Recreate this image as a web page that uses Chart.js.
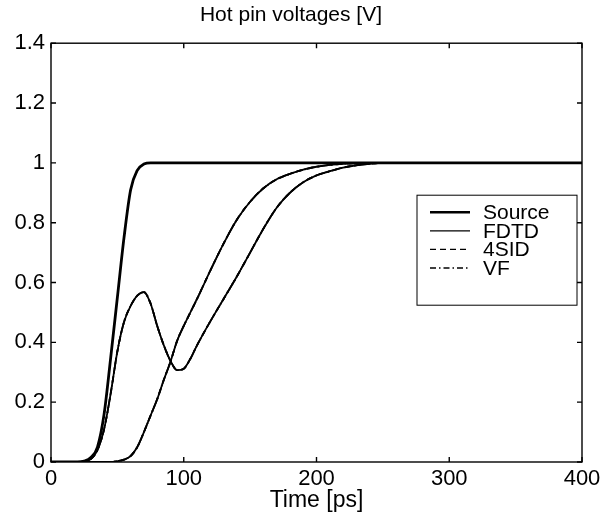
<!DOCTYPE html>
<html>
<head>
<meta charset="utf-8">
<script src="https://cdn.jsdelivr.net/npm/chart.js@4"></script>
<style>
  body { margin: 0; background: #fff; }
  #wrap { width: 615px; height: 523px; }
</style>
</head>
<body>
<div id="wrap"><canvas id="pinChart"></canvas></div>
<script>
// Time axis [ps]
var timePs = [0, 10, 20, 25, 30, 35, 40, 45, 50, 55, 60, 65, 70, 75, 80, 85, 90, 95, 100, 105,
              110, 120, 130, 140, 150, 160, 170, 180, 190, 200, 210, 220, 230, 240, 250, 260, 280, 300, 350, 400];

// Source voltage [V]
var sourceV = [0, 0, 0, 0.003, 0.015, 0.05, 0.16, 0.35, 0.55, 0.75, 0.91, 0.975, 0.996, 1, 1, 1, 1, 1, 1, 1,
               1, 1, 1, 1, 1, 1, 1, 1, 1, 1, 1, 1, 1, 1, 1, 1, 1, 1, 1, 1];

// Hot pin with the bump (near end)
var nearPinV = [0, 0, 0, 0.002, 0.01, 0.04, 0.11, 0.23, 0.37, 0.468, 0.522, 0.556, 0.568, 0.53, 0.455, 0.39, 0.338, 0.307, 0.312, 0.345,
                0.39, 0.47, 0.545, 0.62, 0.7, 0.78, 0.85, 0.9, 0.935, 0.958, 0.972, 0.984, 0.992, 0.997, 1, 1, 1, 1, 1, 1];

// Delayed hot pin (far end)
var farPinV = [0, 0, 0, 0, 0, 0, 0, 0, 0.003, 0.008, 0.02, 0.05, 0.1, 0.155, 0.21, 0.275, 0.335, 0.405, 0.455, 0.5,
               0.545, 0.64, 0.73, 0.81, 0.87, 0.915, 0.945, 0.963, 0.977, 0.987, 0.993, 0.997, 0.999, 1, 1, 1, 1, 1, 1, 1];

var xTicks = [0, 100, 200, 300, 400];
var yTicks = [0, 0.2, 0.4, 0.6, 0.8, 1, 1.2, 1.4];

var FONT = "'Liberation Sans', Arial, sans-serif";

function pts(vals) {
    return timePs.map(function (t, i) { return { x: t, y: vals[i] }; });
}

function line(label, vals, width, legendWidth, dash, inLegend) {
    return {
        label: label,
        data: pts(vals),
        borderColor: "#000",
        borderWidth: width,
        borderDash: dash,
        pointRadius: 0,
        fill: false,
        cubicInterpolationMode: "monotone",
        legendWidth: legendWidth,
        inLegend: inLegend
    };
}

var datasets = [
    line("Source", sourceV, 2.8, 2.6, [], true),
    line("FDTD", nearPinV, 1.8, 1.2, [], true),
    line("FDTD", farPinV, 1.8, 1.2, [], false),
    line("4SID", nearPinV, 1.8, 1.4, [6, 4], true),
    line("4SID", farPinV, 1.8, 1.4, [6, 4], false),
    line("VF", nearPinV, 1.8, 1.4, [6, 3, 1.5, 3], true),
    line("VF", farPinV, 1.8, 1.4, [6, 3, 1.5, 3], false)
];

// box around the axes, inward ticks, and the legend inside
var matlabAxes = {
    id: "matlabAxes",
    afterDatasetsDraw: function (chart) {
        var ctx = chart.ctx, a = chart.chartArea;
        var xs = chart.scales.x, ys = chart.scales.y;
        ctx.save();
        ctx.strokeStyle = "#000";
        ctx.lineWidth = 1.4;
        ctx.setLineDash([]);
        ctx.strokeRect(a.left, a.top, a.right - a.left, a.bottom - a.top);
        var tl = 5;
        ctx.beginPath();
        xTicks.forEach(function (v) {
            var px = xs.getPixelForValue(v);
            ctx.moveTo(px, a.bottom); ctx.lineTo(px, a.bottom - tl);
            ctx.moveTo(px, a.top); ctx.lineTo(px, a.top + tl);
        });
        yTicks.forEach(function (v) {
            var py = ys.getPixelForValue(v);
            ctx.moveTo(a.left, py); ctx.lineTo(a.left + tl, py);
            ctx.moveTo(a.right, py); ctx.lineTo(a.right - tl, py);
        });
        ctx.stroke();

        // legend
        var items = chart.data.datasets.filter(function (d) { return d.inLegend; });
        var bw = 160, bh = 110;
        var bx = a.right - 5 - bw, by = a.top + 152;
        ctx.fillStyle = "#fff";
        ctx.fillRect(bx, by, bw, bh);
        ctx.lineWidth = 1;
        ctx.strokeRect(bx, by, bw, bh);
        ctx.font = "21px " + FONT;
        ctx.textBaseline = "middle";
        ctx.fillStyle = "#000";
        items.forEach(function (d, i) {
            var y = by + 17 + i * 18.6;
            ctx.beginPath();
            ctx.lineWidth = d.legendWidth;
            ctx.setLineDash(d.borderDash);
            ctx.moveTo(bx + 13, y);
            ctx.lineTo(bx + 53, y);
            ctx.stroke();
            ctx.setLineDash([]);
            ctx.fillText(d.label, bx + 66, y + 1);
        });
        ctx.restore();
    }
};

new Chart(document.getElementById("pinChart"), {
    type: "line",
    data: { datasets: datasets },
    options: {
        responsive: true,
        maintainAspectRatio: false,
        animation: false,
        layout: { padding: { left: 0, right: 33, top: 0, bottom: 0 } },
        plugins: {
            legend: { display: false },
            tooltip: { enabled: false },
            title: {
                display: true,
                text: "Hot pin voltages [V]",
                color: "#000",
                font: { family: FONT, size: 21, weight: "normal" },
                padding: { top: 3, bottom: 15 }
            }
        },
        scales: {
            x: {
                type: "linear",
                min: 0, max: 400,
                afterFit: function (s) { s.height = 61; },
                afterBuildTicks: function (s) { s.ticks = xTicks.map(function (v) { return { value: v }; }); },
                grid: { display: false, drawTicks: false },
                border: { display: false },
                ticks: { color: "#000", padding: 4, maxRotation: 0, font: { family: FONT, size: 22 } },
                title: {
                    display: true,
                    text: "Time [ps]",
                    color: "#000",
                    font: { family: FONT, size: 23 },
                    padding: { top: 0, bottom: 9 }
                }
            },
            y: {
                min: 0, max: 1.4,
                afterFit: function (s) { s.width = 51; },
                afterBuildTicks: function (s) { s.ticks = yTicks.map(function (v) { return { value: v }; }); },
                grid: { display: false, drawTicks: false },
                border: { display: false },
                ticks: {
                    color: "#000", padding: 6, font: { family: FONT, size: 22 },
                    callback: function (v) { return String(Math.round(v * 10) / 10); }
                }
            }
        }
    },
    plugins: [matlabAxes]
});
</script>
</body>
</html>
